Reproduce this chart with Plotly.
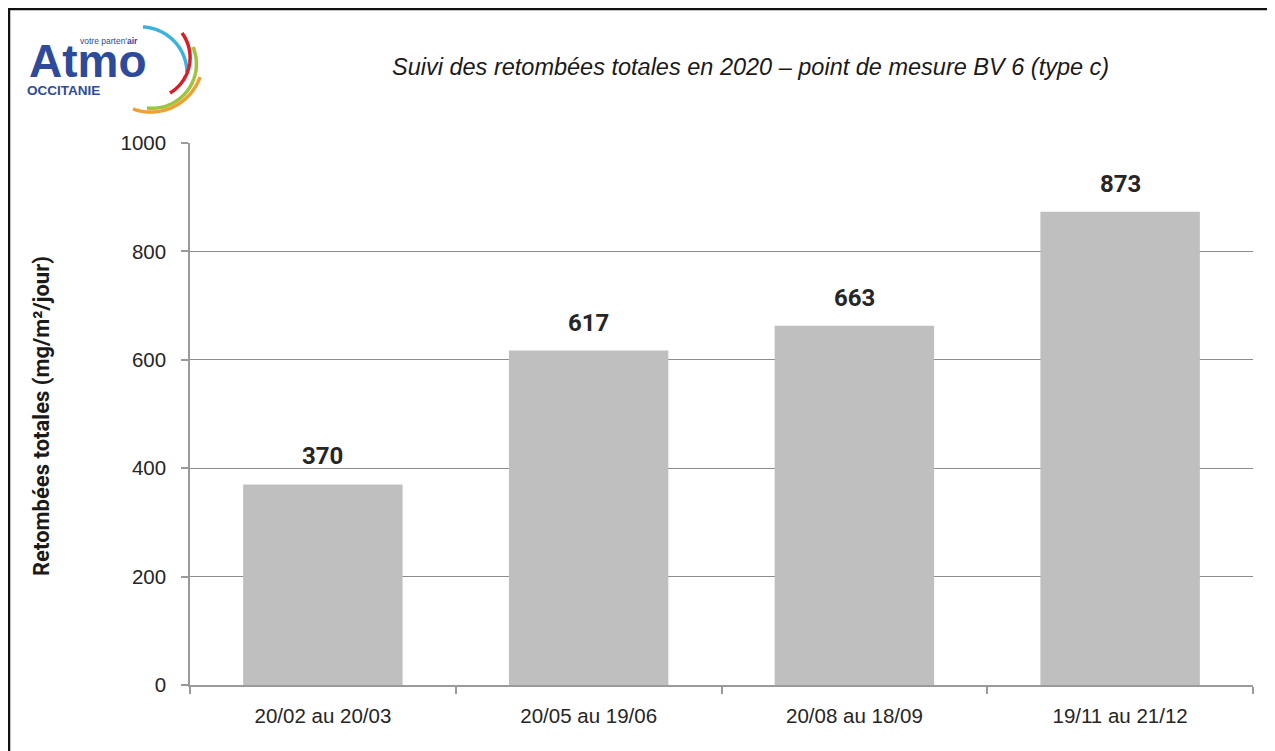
import math
import plotly.graph_objects as go

categories = ["20/02 au 20/03", "20/05 au 19/06", "20/08 au 18/09", "19/11 au 21/12"]
values = [370, 617, 663, 873]
y_ticks = [0, 200, 400, 600, 800, 1000]

OFF = 8  # default page body margin
W, H = 1275, 751
ML, MR, MT, MB = 190 - OFF, 22 + OFF, 143 - OFF, 66 + OFF
PW, PH = W - ML - MR, H - MT - MB


def px(x):
    return (x - OFF - ML) / PW


def py(y):
    return (H - MB - (y - OFF)) / PH


fig = go.Figure()
fig.add_trace(go.Bar(
    x=categories, y=values,
    marker=dict(color="#bfbfbf", line=dict(width=0)),
    hoverinfo="x+y",
))

for c, v in zip(categories, values):
    fig.add_annotation(x=c, y=v, text="<b>%d</b>" % v, showarrow=False,
                       yanchor="bottom", yshift=12,
                       font=dict(family="Roboto, Liberation Sans", size=24, color="#262626"))

shapes = []
# outer border (top and left)
shapes.append(dict(type="line", xref="paper", yref="paper", x0=px(8), x1=px(1300), y0=py(9), y1=py(9),
                   line=dict(color="#111", width=2.5)))
shapes.append(dict(type="line", xref="paper", yref="paper", x0=px(9), x1=px(9), y0=py(8), y1=py(770),
                   line=dict(color="#111", width=2.5)))


def circ3(p1, p2, p3):
    (x1, y1), (x2, y2), (x3, y3) = p1, p2, p3
    d = 2 * (x1 * (y2 - y3) + x2 * (y3 - y1) + x3 * (y1 - y2))
    ux = ((x1**2 + y1**2) * (y2 - y3) + (x2**2 + y2**2) * (y3 - y1) + (x3**2 + y3**2) * (y1 - y2)) / d
    uy = ((x1**2 + y1**2) * (x3 - x2) + (x2**2 + y2**2) * (x1 - x3) + (x3**2 + y3**2) * (x2 - x1)) / d
    return ux, uy, math.hypot(x1 - ux, y1 - uy)


# logo arcs (start, middle, end in screen pixels)
arcs = [
    ((143, 27), (173, 40), (187, 72), "#3bb3dc"),
    ((182, 33), (190, 60), (170, 93), "#d5202a"),
    ((193, 47), (196, 70), (147, 108), "#9cc43c"),
    ((200, 77), (180, 103), (133, 109), "#f0a030"),
]
for p1, p2, p3, col in arcs:
    ux, uy, r = circ3(p1, p2, p3)
    a1 = math.atan2(p1[1] - uy, p1[0] - ux)
    a3 = math.atan2(p3[1] - uy, p3[0] - ux)
    if a3 < a1:
        a3 += 2 * math.pi
    pts = []
    n = 40
    for i in range(n + 1):
        a = a1 + (a3 - a1) * i / n
        pts.append((px(ux + r * math.cos(a)), py(uy + r * math.sin(a))))
    path = "M " + " L ".join("%.5f,%.5f" % p for p in pts)
    shapes.append(dict(type="path", xref="paper", yref="paper", path=path,
                       line=dict(color=col, width=3.5)))

fig.add_annotation(xref="paper", yref="paper", x=px(27), y=py(61), xanchor="left", yanchor="middle",
                   text="<b>Atmo</b>", showarrow=False,
                   font=dict(family="Liberation Sans, Arial", size=46, color="#2e4a9a"))
fig.add_annotation(xref="paper", yref="paper", x=px(140), y=py(41), xanchor="right", yanchor="middle",
                   text="votre parten'<b>air</b>", showarrow=False,
                   font=dict(family="Liberation Sans, Arial", size=8.5, color="#2e4a9a"))
fig.add_annotation(xref="paper", yref="paper", x=px(25), y=py(90), xanchor="left", yanchor="middle",
                   text="<b>OCCITANIE</b>", showarrow=False,
                   font=dict(family="Liberation Sans, Arial", size=13.5, color="#2e4a9a"))

# title
fig.add_annotation(xref="paper", yref="paper", x=px(750), y=py(67), xanchor="center", yanchor="middle",
                   text="<i>Suivi des retombées totales en 2020 – point de mesure BV 6 (type c)</i>",
                   showarrow=False,
                   font=dict(family="Liberation Sans, Arial", size=23.5, color="#1a1a1a"))

# y axis title
fig.add_annotation(xref="paper", yref="paper", x=px(41), y=py(416), xanchor="center", yanchor="middle",
                   text="<b>Retombées totales (mg/m²/jour)</b>", textangle=-90, showarrow=False,
                   font=dict(family="Roboto, Liberation Sans", size=22, color="#1a1a1a"))

fig.update_layout(
    width=W, height=H,
    margin=dict(l=ML, r=MR, t=MT, b=MB, autoexpand=False),
    paper_bgcolor="white", plot_bgcolor="white",
    showlegend=False,
    bargap=0.4,
    shapes=shapes,
    font=dict(family="Liberation Sans, Arial", color="#333"),
)
fig.update_xaxes(
    showline=True, linecolor="#9a9a9a", linewidth=1.5,
    ticks="outside", tickson="boundaries", ticklen=7, tickcolor="#9a9a9a", tickwidth=1.5,
    tickfont=dict(size=20.5, color="#262626", family="Liberation Sans, Arial"),
    ticklabelstandoff=12,
    showgrid=False,
)
fig.update_yaxes(
    range=[0, 1000], tickvals=y_ticks,
    showline=True, linecolor="#9a9a9a", linewidth=1.5,
    ticks="outside", ticklen=7, tickcolor="#9a9a9a", tickwidth=1.5,
    showgrid=True, gridcolor="#8c8c8c", gridwidth=1,
    zeroline=False,
    ticklabelstandoff=11,
    tickfont=dict(size=20.5, color="#262626", family="Liberation Sans, Arial"),
)

fig.write_html("out.html")
